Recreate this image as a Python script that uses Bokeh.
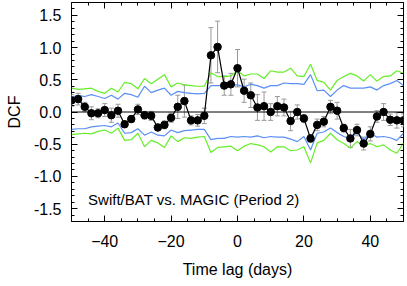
from bokeh.plotting import figure
from bokeh.models import (ColumnDataSource, Whisker, TeeHead, LinearAxis, Span,
                          SingleIntervalTicker, Range1d, Label, PrintfTickFormatter,
                          CustomLabelingPolicy)
from bokeh.embed import file_html
from bokeh.resources import INLINE

# ---- data ----
lags = list(range(-50, 51, 2))
dcf = [0.18, 0.20, 0.08, -0.02, -0.02, 0.03, -0.05, 0.02, -0.19, -0.11,
       0.04, -0.05, -0.06, -0.24, -0.20, -0.09, 0.08, 0.17, -0.13, -0.13,
       -0.06, 0.88, 1.01, 0.41, 0.43, 0.68, 0.33, 0.26, 0.07, 0.09,
       0.00, 0.09, 0.07, -0.14, 0.00, -0.10, -0.41, -0.20, -0.15, 0.08,
       0.02, -0.25, -0.41, -0.28, -0.49, -0.34, -0.07, 0.00, -0.12, -0.13,
       -0.13]
err = [0.09, 0.09, 0.07, 0.10, 0.07, 0.10, 0.11, 0.10, 0.05, 0.05,
       0.08, 0.06, 0.07, 0.05, 0.06, 0.07, 0.18, 0.25, 0.07, 0.09,
       0.12, 0.43, 0.40, 0.15, 0.17, 0.29, 0.18, 0.19, 0.20, 0.22,
       0.13, 0.15, 0.13, 0.15, 0.11, 0.06, 0.06, 0.09, 0.08, 0.10,
       0.13, 0.06, 0.14, 0.09, 0.10, 0.11, 0.09, 0.13, 0.09, 0.12,
       0.10]
blue_upper = [0.23, 0.26, 0.24, 0.27, 0.24, 0.21, 0.26, 0.20, 0.29, 0.27,
              0.23, 0.40, 0.30, 0.34, 0.37, 0.26, 0.32, 0.30, 0.29, 0.28,
              0.29, 0.41, 0.41, 0.41, 0.42, 0.42, 0.39, 0.43, 0.41, 0.37,
              0.41, 0.41, 0.45, 0.44, 0.44, 0.43, 0.58, 0.33, 0.34, 0.24,
              0.34, 0.41, 0.37, 0.37, 0.37, 0.39, 0.34, 0.41, 0.44, 0.49,
              0.41]
blue_lower = [-0.27, -0.26, -0.26, -0.23, -0.22, -0.21, -0.23, -0.17, -0.33, -0.32,
              -0.26, -0.36, -0.31, -0.36, -0.37, -0.28, -0.32, -0.29, -0.28, -0.27,
              -0.27, -0.43, -0.41, -0.41, -0.38, -0.39, -0.38, -0.39, -0.37, -0.40,
              -0.38, -0.39, -0.39, -0.42, -0.46, -0.38, -0.59, -0.33, -0.31, -0.25,
              -0.32, -0.38, -0.41, -0.32, -0.43, -0.33, -0.39, -0.38, -0.40, -0.44,
              -0.33]
green_upper = [0.37, 0.35, 0.36, 0.37, 0.32, 0.29, 0.37, 0.31, 0.46, 0.44,
               0.36, 0.52, 0.44, 0.51, 0.58, 0.39, 0.45, 0.42, 0.41, 0.40,
               0.40, 0.61, 0.55, 0.55, 0.56, 0.64, 0.56, 0.59, 0.59, 0.52,
               0.64, 0.62, 0.62, 0.68, 0.56, 0.55, 0.74, 0.49, 0.46, 0.34,
               0.49, 0.55, 0.60, 0.56, 0.48, 0.58, 0.48, 0.55, 0.56, 0.64,
               0.60]
green_lower = [-0.35, -0.34, -0.33, -0.34, -0.30, -0.28, -0.33, -0.25, -0.44, -0.43,
               -0.33, -0.54, -0.44, -0.48, -0.55, -0.37, -0.46, -0.40, -0.41, -0.39,
               -0.38, -0.63, -0.55, -0.54, -0.53, -0.60, -0.53, -0.49, -0.51, -0.54,
               -0.62, -0.54, -0.54, -0.60, -0.59, -0.54, -0.79, -0.48, -0.44, -0.33,
               -0.43, -0.49, -0.56, -0.46, -0.52, -0.49, -0.54, -0.51, -0.59, -0.64,
               -0.48]
zero_level = 0.0
x_title = "Time lag (days)"
y_title = "DCF"
annotation = "Swift/BAT vs. MAGIC (Period 2)"

FONT = "Liberation Sans"

src = ColumnDataSource(dict(
    lag=lags, dcf=dcf,
    hi=[d + e for d, e in zip(dcf, err)],
    lo=[d - e for d, e in zip(dcf, err)],
    bu=blue_upper, bl=blue_lower, gu=green_upper, gl=green_lower))

p = figure(width=407, height=286, output_backend="svg", toolbar_location=None,
           x_range=Range1d(-50, 50), y_range=Range1d(-1.7, 1.7),
           min_border_left=71, min_border_right=4, min_border_top=2,
           min_border_bottom=65)
p.background_fill_color = "white"
p.border_fill_color = "white"
p.outline_line_color = "black"
p.outline_line_width = 1
p.outline_line_alpha = 1
p.grid.visible = False


def style_axis(ax, labels=True):
    ax.axis_line_color = None
    ax.major_tick_in = 6
    ax.major_tick_out = 0
    ax.minor_tick_in = 3
    ax.minor_tick_out = 0
    ax.major_tick_line_color = "black"
    ax.minor_tick_line_color = "black"
    if labels:
        ax.major_label_text_font = FONT
        ax.major_label_text_font_size = "16px"
        ax.major_label_text_color = "black"
        ax.axis_label_text_font = FONT
        ax.axis_label_text_font_size = "16px"
        ax.axis_label_text_font_style = "normal"
        ax.axis_label_text_color = "black"
    else:
        ax.major_label_text_font_size = "0px"
        ax.major_label_standoff = 0
        ax.major_label_policy = CustomLabelingPolicy(code="return []")


xa = p.xaxis[0]
xa.ticker = SingleIntervalTicker(interval=20, num_minor_ticks=4)
style_axis(xa)
xa.axis_label = x_title
xa.major_label_standoff = 13
xa.axis_label_standoff = 11

ya = p.yaxis[0]
ya.ticker = SingleIntervalTicker(interval=0.5, num_minor_ticks=5)
ya.formatter = PrintfTickFormatter(format="%.1f")
style_axis(ya)
ya.axis_label = y_title
ya.major_label_standoff = 10
ya.axis_label_standoff = 8

rax = LinearAxis(ticker=SingleIntervalTicker(interval=0.5, num_minor_ticks=5))
style_axis(rax, labels=False)
p.add_layout(rax, "right")
tax = LinearAxis(ticker=SingleIntervalTicker(interval=20, num_minor_ticks=4))
style_axis(tax, labels=False)
p.add_layout(tax, "above")

p.add_layout(Span(location=zero_level, dimension="width", line_color="black",
                  line_width=1))

green = "#66ee2a"
blue = "#5c8ff6"
p.line("lag", "gu", source=src, line_color=green, line_width=1.2)
p.line("lag", "gl", source=src, line_color=green, line_width=1.2)
p.line("lag", "bu", source=src, line_color=blue, line_width=1.2)
p.line("lag", "bl", source=src, line_color=blue, line_width=1.2)

ecol = "#999999"
p.add_layout(Whisker(base="lag", upper="hi", lower="lo", source=src,
                     line_color=ecol, line_width=1,
                     upper_head=TeeHead(size=5, line_color=ecol, line_width=1),
                     lower_head=TeeHead(size=5, line_color=ecol, line_width=1)))

p.line("lag", "dcf", source=src, line_color="black", line_width=1.2)
p.scatter("lag", "dcf", source=src, size=7.5, fill_color="black",
          line_color="black")

p.add_layout(Label(x=-45, y=-1.36, text=annotation, text_font=FONT,
                   text_font_size="15px", text_baseline="middle",
                   text_color="black"))

open("out.html", "w").write(file_html(p, INLINE))
